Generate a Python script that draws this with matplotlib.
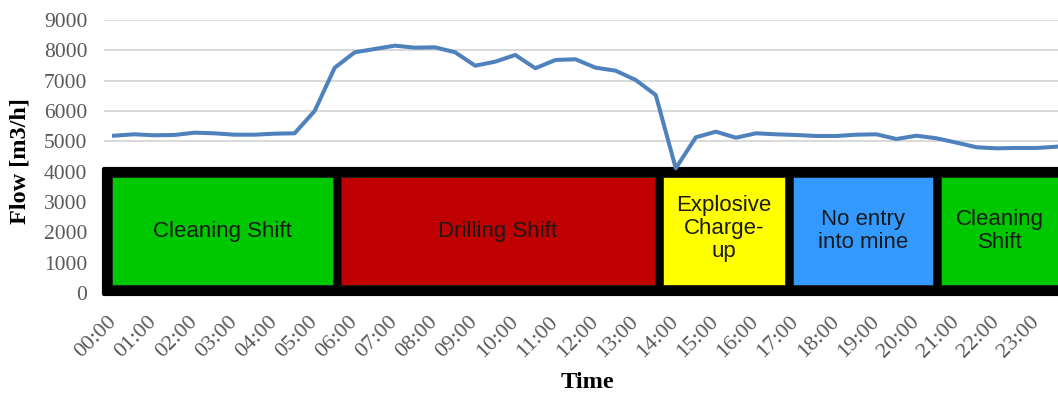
import matplotlib
matplotlib.use("Agg")
import matplotlib.pyplot as plt
from matplotlib.patches import Rectangle

# Half-hourly time stamps and measured ventilation flow
times = [f"{h:02d}:{m:02d}" for h in range(24) for m in (0, 30)]
flow = [5186, 5232, 5200, 5209, 5285, 5265, 5219, 5219, 5252, 5265,
        6000, 7428, 7936, 8045, 8154, 8088, 8100, 7936, 7494, 7626,
        7847, 7409, 7682, 7705, 7428, 7329, 7023, 6528, 4111, 5133,
        5318, 5120, 5265, 5232, 5209, 5176, 5176, 5219, 5232, 5077,
        5186, 5100, 4956, 4803, 4770, 4781, 4781, 4824]
hour_labels = times[::2]
y_ticks = list(range(0, 9001, 1000))

# Work shifts over the day (hours)
shift_names = ["Cleaning Shift", "Drilling Shift", "Explosive\nCharge-\nup",
               "No entry\ninto mine", "Cleaning\nShift"]
shift_edges = [-0.06, 5.56, 13.57, 16.83, 20.51, 23.66]
shift_colors = ["#00c800", "#c00000", "#ffff00", "#3399ff", "#00c800"]

fig = plt.figure(figsize=(10.58, 3.96), dpi=100)
W, H = 1058, 396
left_px, right_px, top_px, bot_px = 104, 1067, 20, 293
ax = fig.add_axes([left_px / W, (H - bot_px) / H,
                   (right_px - left_px) / W, (bot_px - top_px) / H])

x = list(range(len(times)))
ax.set_xlim(-0.5, len(times) - 0.5)
ax.set_ylim(0, 9000)

ax.set_yticks(y_ticks)
ax.yaxis.grid(True, color="#d9d9d9", linewidth=1.4, zorder=0)
ax.set_axisbelow(True)
for s in ax.spines.values():
    s.set_visible(False)

serif = ["Liberation Serif", "DejaVu Serif"]
ax.set_xticks(x[::2])
ax.set_xticklabels(hour_labels, rotation=45, ha="right", va="center",
                   rotation_mode="anchor", family=serif, fontsize=16,
                   color="#595959")
for lbl in ax.get_yticklabels():
    lbl.set_family(serif)
ax.tick_params(axis="y", length=0, pad=12, labelsize=15.5, labelcolor="#595959")
ax.tick_params(axis="x", length=0, pad=19)

# Shift schedule overlay: black frame holding coloured blocks
frame = Rectangle((-0.5, -33), 49, 4105, facecolor="black", edgecolor="black",
                  linewidth=3, joinstyle="round", clip_on=False, zorder=2)
ax.add_patch(frame)
gap = 0.1
for i, name in enumerate(shift_names):
    a = shift_edges[i] + (0 if i == 0 else gap)
    b = shift_edges[i + 1] - gap
    x0, x1 = 2 * a, 2 * b
    ax.add_patch(Rectangle((x0, 264), x1 - x0, 3824 - 264,
                           facecolor=shift_colors[i], edgecolor="#202020",
                           linewidth=0.6, clip_on=False, zorder=3))
    nlines = name.count("\n") + 1
    yc = {1: 2011, 2: 2044, 3: 2127}[nlines]
    ax.text((x0 + x1) / 2, yc, name, ha="center", va="center",
            fontsize=16, family=["Liberation Sans", "DejaVu Sans"],
            color="#1a1a1a", linespacing=1.15, zorder=4)

ax.plot(x, flow, color="#4f81bd", linewidth=2.9, solid_joinstyle="round",
        zorder=5, clip_on=False)

ax.set_xlabel("Time", family=serif, fontweight="bold", fontsize=17.5)
ax.xaxis.label.set_va("center")
ax.xaxis.set_label_coords((587 - left_px) / (right_px - left_px),
                          (bot_px - 383) / (bot_px - top_px))
ax.set_ylabel("Flow [m3/h]", family=serif, fontweight="bold", fontsize=17.5)
ax.yaxis.label.set_va("center")
ax.yaxis.set_label_coords((20 - left_px) / (right_px - left_px),
                          (bot_px - 161) / (bot_px - top_px))

fig.savefig("out.png", dpi=100)
